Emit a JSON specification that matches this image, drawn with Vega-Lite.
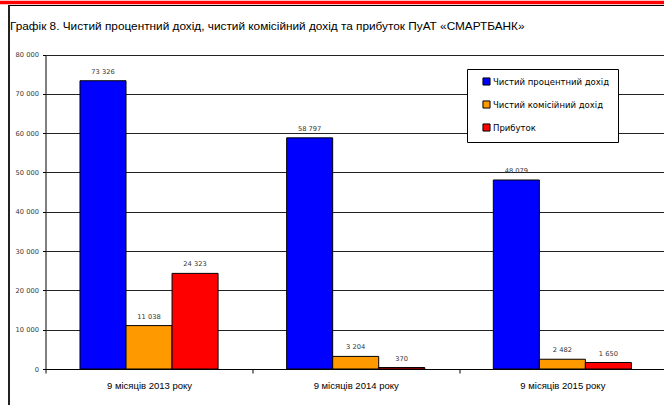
{
  "$schema": "https://vega.github.io/schema/vega-lite/v6.json",
  "width": 655.5,
  "height": 405,
  "autosize": {"type": "none"},
  "padding": {"left": 8.5, "top": 0, "right": 0, "bottom": 0},
  "background": "white",
  "config": {
    "locale": {"number": {"decimal": ",", "thousands": " ", "grouping": [3], "currency": ["", ""]}},
    "font": "Liberation Sans",
    "view": {"stroke": null}
  },
  "title": {
    "text": "Графік 8. Чистий процентний дохід, чистий комісійний дохід та прибуток ПуАТ «СМАРТБАНК»",
    "anchor": "start",
    "frame": "group",
    "orient": "top",
    "offset": -33,
    "dx": 1.5,
    "fontSize": 11.8,
    "fontWeight": "normal",
    "color": "#000"
  },
  "data": {
    "values": [
      {"period": "9 місяців  2013 року", "series": "Чистий процентний дохід", "value": 73326},
      {"period": "9 місяців  2013 року", "series": "Чистий комісійний дохід", "value": 11038},
      {"period": "9 місяців  2013 року", "series": "Прибуток", "value": 24323},
      {"period": "9 місяців 2014 року", "series": "Чистий процентний дохід", "value": 58797},
      {"period": "9 місяців 2014 року", "series": "Чистий комісійний дохід", "value": 3204},
      {"period": "9 місяців 2014 року", "series": "Прибуток", "value": 370},
      {"period": "9 місяців 2015 року", "series": "Чистий процентний дохід", "value": 48079},
      {"period": "9 місяців 2015 року", "series": "Чистий комісійний дохід", "value": 2482},
      {"period": "9 місяців 2015 року", "series": "Прибуток", "value": 1650}
    ]
  },
  "layer": [
    {
      "encoding": {
        "x": {
          "field": "period",
          "type": "nominal",
          "sort": null,
          "scale": {"range": [37.2, 657.2], "paddingInner": 0, "paddingOuter": 0},
          "axis": {
            "orient": "bottom",
            "offset": -36,
            "title": null,
            "labelAngle": 0,
            "tickBand": "extent",
            "domainColor": "#000",
            "tickColor": "#000",
            "tickSize": 4,
            "labelFontSize": 9.5,
            "labelColor": "#000",
            "labelPadding": 7,
            "grid": false
          }
        },
        "xOffset": {
          "field": "series",
          "sort": ["Чистий процентний дохід", "Чистий комісійний дохід", "Прибуток"],
          "scale": {"paddingInner": 0, "paddingOuter": 0.745}
        },
        "y": {
          "field": "value",
          "type": "quantitative",
          "scale": {"domain": [0, 80000], "range": [369, 54.5], "nice": false},
          "axis": {
            "values": [0, 10000, 20000, 30000, 40000, 50000, 60000, 70000, 80000],
            "format": ",.0f",
            "offset": -37,
            "title": null,
            "grid": true,
            "gridColor": "#222",
            "gridWidth": 1,
            "domainColor": "#000",
            "tickColor": "#000",
            "tickSize": 3,
            "labelFont": "DejaVu Sans",
            "labelFontSize": 6.7,
            "labelColor": "#333",
            "labelPadding": 4
          }
        }
      },
      "layer": [
        {
          "mark": {"type": "bar", "stroke": "#000", "strokeWidth": 1},
          "encoding": {
            "color": {
              "field": "series",
              "type": "nominal",
              "sort": ["Чистий процентний дохід", "Чистий комісійний дохід", "Прибуток"],
              "scale": {
                "domain": ["Чистий процентний дохід", "Чистий комісійний дохід", "Прибуток"],
                "range": ["#0000FF", "#FF9900", "#FF0000"]
              },
              "legend": {
                "orient": "none",
                "legendX": 458.5,
                "legendY": 69,
                "title": null,
                "fillColor": "#fff",
                "strokeColor": "#000",
                "padding": 8,
                "symbolType": "square",
                "symbolSize": 50,
                "symbolStrokeColor": "#000",
                "symbolStrokeWidth": 1,
                "symbolOffset": 7,
                "labelOffset": 2,
                "labelFont": "DejaVu Sans",
                "labelFontSize": 8.5,
                "labelColor": "#000",
                "rowPadding": 10,
                "cornerRadius": 0
              }
            }
          }
        },
        {
          "mark": {"type": "text", "dy": -9, "fontSize": 6.7, "font": "DejaVu Sans", "color": "#333"},
          "encoding": {
            "text": {"field": "value", "type": "quantitative", "format": ",.0f"}
          }
        }
      ]
    },
    {
      "mark": {"type": "point", "opacity": 0},
      "encoding": {
        "x": {
          "field": "period",
          "type": "nominal",
          "sort": null,
          "scale": {"range": [-1, 655.5]},
          "axis": null
        },
        "y": {
          "field": "value",
          "type": "quantitative",
          "scale": {"domain": [0, 80000], "range": [405, 5], "nice": false},
          "axis": {
            "orient": "left",
            "offset": 0,
            "values": [80000],
            "domainColor": "#222",
            "domainWidth": 2,
            "ticks": false,
            "labels": false,
            "title": null,
            "grid": true,
            "gridColor": "#000",
            "gridWidth": 1.2
          }
        }
      }
    },
    {
      "mark": {"type": "point", "opacity": 0},
      "encoding": {
        "x": {
          "field": "period",
          "type": "nominal",
          "sort": null,
          "scale": {"range": [-9, 656]},
          "axis": null
        },
        "y": {
          "field": "value",
          "type": "quantitative",
          "scale": {"domain": [0, 80000], "range": [405, 1.75], "nice": false},
          "axis": {
            "orient": "left",
            "offset": 0,
            "values": [80000],
            "domain": false,
            "ticks": false,
            "labels": false,
            "title": null,
            "grid": true,
            "gridColor": "#FF0000",
            "gridWidth": 3.5
          }
        }
      }
    }
  ],
  "resolve": {
    "scale": {"x": "independent", "y": "independent"},
    "axis": {"x": "independent", "y": "independent"}
  }
}
